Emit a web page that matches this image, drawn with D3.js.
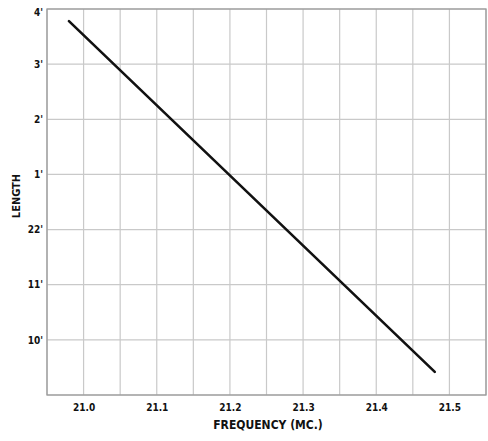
<!DOCTYPE html>
<html>
<head>
<meta charset="utf-8">
<script src="https://cdn.jsdelivr.net/npm/d3@7"></script>
<style>
  html, body { margin: 0; padding: 0; background: #fff; }
  svg { display: block; }
  text { font-family: "DejaVu Sans Condensed", "DejaVu Sans", sans-serif; fill: #111; }
</style>
</head>
<body>
<svg id="chart" width="488" height="441"></svg>
<script>
// Frequency axis (MC.) — labelled ticks and grid spacing
const freqTicks = [21.0, 21.1, 21.2, 21.3, 21.4, 21.5];
const freqGrid = [20.95, 21.0, 21.05, 21.1, 21.15, 21.2, 21.25, 21.3, 21.35, 21.4, 21.45, 21.5, 21.55];

// Length axis, in inches (22'4" at top down to 21'9" at bottom)
const lengthTicks = [268, 267, 266, 265, 264, 263, 262];
const lengthLabels = ["4'", "3'", "2'", "1'", "22'", "11'", "10'"];
const lengthGrid = [268, 267, 266, 265, 264, 263, 262, 261];

// Antenna length vs. frequency
const lineFreq = [20.98, 21.48];
const lineLength = [267.78, 261.42];

const svg = d3.select("#chart");
const m = { left: 47, right: 486, top: 9, bottom: 395 };

const x = d3.scaleLinear().domain([20.95, 21.55]).range([m.left, m.right]);
const y = d3.scaleLinear().domain([268, 261]).range([m.top, m.bottom]);

// grid
svg.append("g").selectAll("line").data(freqGrid).join("line")
  .attr("x1", d => x(d)).attr("x2", d => x(d))
  .attr("y1", m.top).attr("y2", m.bottom)
  .attr("stroke", "#c9c9c9").attr("stroke-width", 1.2);

svg.append("g").selectAll("line").data(lengthGrid).join("line")
  .attr("x1", m.left).attr("x2", m.right)
  .attr("y1", d => y(d)).attr("y2", d => y(d))
  .attr("stroke", "#c9c9c9").attr("stroke-width", 1.2);

// frame
svg.append("rect")
  .attr("x", m.left).attr("y", m.top)
  .attr("width", m.right - m.left).attr("height", m.bottom - m.top)
  .attr("fill", "none").attr("stroke", "#9a9a9a").attr("stroke-width", 1.3);

// x axis labels
const xAxis = d3.axisBottom(x).tickValues(freqTicks).tickSize(0).tickPadding(9)
  .tickFormat(d => d.toFixed(1));
const gx = svg.append("g").attr("transform", `translate(0,${m.bottom})`).call(xAxis);
gx.select(".domain").remove();
gx.selectAll("text").attr("font-size", 10).attr("font-weight", "bold")
  .style("font-family", "'DejaVu Sans Condensed', sans-serif");

// y axis labels
const yAxis = d3.axisLeft(y).tickValues(lengthTicks).tickSize(0).tickPadding(4)
  .tickFormat((d, i) => lengthLabels[i]);
const gy = svg.append("g").attr("transform", `translate(${m.left},0)`).call(yAxis);
gy.select(".domain").remove();
gy.selectAll("text").attr("font-size", 10).attr("font-weight", "bold")
  .style("font-family", "'DejaVu Sans Condensed', sans-serif")
  .attr("dy", (d, i) => i === 0 ? "0.6em" : "0.32em");

// data line
const pts = lineFreq.map((f, i) => [f, lineLength[i]]);
svg.append("path")
  .datum(pts)
  .attr("d", d3.line().x(d => x(d[0])).y(d => y(d[1])))
  .attr("fill", "none").attr("stroke", "#111").attr("stroke-width", 2.6)
  .attr("stroke-linecap", "round");

// axis titles
svg.append("text")
  .attr("x", 268).attr("y", 429)
  .attr("text-anchor", "middle")
  .attr("font-size", 12).attr("font-weight", "bold")
  .text("FREQUENCY  (MC.)");

svg.append("text")
  .attr("transform", "translate(20,196) rotate(-90)")
  .attr("text-anchor", "middle")
  .attr("font-size", 11).attr("font-weight", "bold")
  .text("LENGTH");
</script>
</body>
</html>
